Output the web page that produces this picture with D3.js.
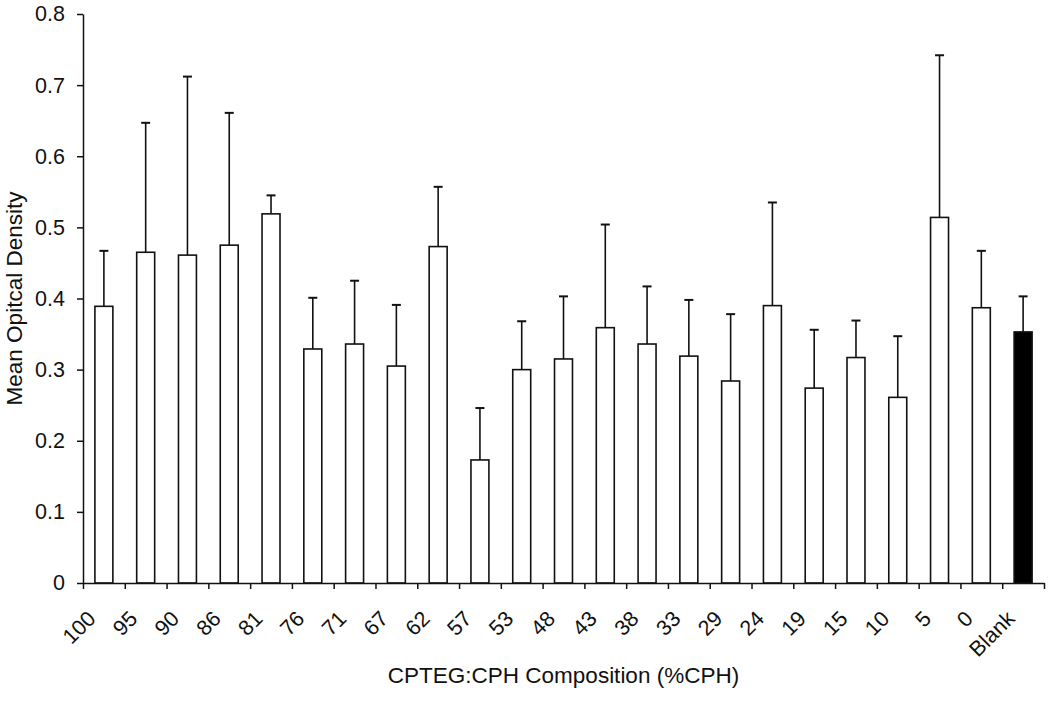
<!DOCTYPE html>
<html>
<head>
<meta charset="utf-8">
<script src="https://cdn.jsdelivr.net/npm/d3@7"></script>
<style>
  body { margin: 0; background: #fff; }
  text { font-family: "Liberation Sans", Arial, sans-serif; fill: #111; }
  .axis path, .axis line { stroke: #111; stroke-width: 1.5; }
</style>
</head>
<body>
<div id="chart"></div>
<script>
// values
var categories = ["100", "95", "90", "86", "81", "76", "71", "67", "62", "57", "53", "48",
  "43", "38", "33", "29", "24", "19", "15", "10", "5", "0", "Blank"];
var means = [0.389, 0.465, 0.461, 0.475, 0.519, 0.329, 0.336, 0.305, 0.473, 0.173, 0.300, 0.315,
  0.359, 0.336, 0.319, 0.284, 0.390, 0.274, 0.317, 0.261, 0.514, 0.387, 0.353];
var errors = [0.078, 0.182, 0.251, 0.186, 0.026, 0.072, 0.089, 0.086, 0.084, 0.073, 0.068, 0.088,
  0.145, 0.081, 0.079, 0.094, 0.145, 0.082, 0.052, 0.086, 0.228, 0.080, 0.050];
var yTicks = [0, 0.1, 0.2, 0.3, 0.4, 0.5, 0.6, 0.7, 0.8];

var svgWidth = 1050;
var svgHeight = 701;
var margin = { top: 14, right: 6, bottom: 118, left: 83 };
var width = svgWidth - margin.left - margin.right;
var height = svgHeight - margin.top - margin.bottom;
var tickFont = "21.5px";
var titleFont = "22.5px";

var chartData = categories.map(function(c, i) {
  return { cat: c, mean: means[i], err: errors[i] };
});

var svg = d3.select("#chart")
  .append("svg")
  .attr("width", svgWidth)
  .attr("height", svgHeight);

var chartGroup = svg.append("g")
  .attr("transform", `translate(${margin.left}, ${margin.top})`);

var xBand = d3.scaleBand()
  .domain(categories)
  .range([0, width])
  .paddingInner(0.57)
  .paddingOuter(0.285);

// scale for tick marks between categories
var xEdge = d3.scaleLinear()
  .domain([0, categories.length])
  .range([0, width]);

var yLinearScale = d3.scaleLinear()
  .domain([0, 0.8])
  .range([height, 0]);

// bars
chartGroup.selectAll("rect.bar")
  .data(chartData)
  .enter()
  .append("rect")
  .attr("class", "bar")
  .attr("x", d => xBand(d.cat))
  .attr("y", d => yLinearScale(d.mean))
  .attr("width", xBand.bandwidth())
  .attr("height", d => height - yLinearScale(d.mean))
  .attr("fill", d => d.cat === "Blank" ? "#000" : "#fff")
  .attr("stroke", "#111")
  .attr("stroke-width", 1.6);

// error bars (upper only)
var errGroup = chartGroup.append("g");
errGroup.selectAll("line.stem")
  .data(chartData)
  .enter()
  .append("line")
  .attr("x1", d => xBand(d.cat) + xBand.bandwidth() / 2)
  .attr("x2", d => xBand(d.cat) + xBand.bandwidth() / 2)
  .attr("y1", d => yLinearScale(d.mean))
  .attr("y2", d => yLinearScale(d.mean + d.err))
  .attr("stroke", "#111")
  .attr("stroke-width", 1.6);

errGroup.selectAll("line.cap")
  .data(chartData)
  .enter()
  .append("line")
  .attr("x1", d => xBand(d.cat) + xBand.bandwidth() / 2 - 4.5)
  .attr("x2", d => xBand(d.cat) + xBand.bandwidth() / 2 + 4.5)
  .attr("y1", d => yLinearScale(d.mean + d.err))
  .attr("y2", d => yLinearScale(d.mean + d.err))
  .attr("stroke", "#111")
  .attr("stroke-width", 2);

// axes
var leftAxis = d3.axisLeft(yLinearScale)
  .tickValues(yTicks)
  .tickFormat(d => d === 0 ? "0" : d.toFixed(1))
  .tickSizeInner(6)
  .tickSizeOuter(0)
  .tickPadding(12);

var yAxisG = chartGroup.append("g")
  .attr("class", "axis")
  .call(leftAxis);
yAxisG.selectAll("text")
  .style("font-size", tickFont)
  .style("font-family", "'Liberation Sans', Arial, sans-serif")
  .attr("fill", "#111");

var bottomAxis = d3.axisBottom(xEdge)
  .tickValues(d3.range(categories.length + 1))
  .tickFormat("")
  .tickSizeInner(6)
  .tickSizeOuter(0);

chartGroup.append("g")
  .attr("class", "axis")
  .attr("transform", `translate(0, ${height})`)
  .call(bottomAxis);

// rotated category labels
chartGroup.append("g")
  .selectAll("text")
  .data(categories)
  .join("text")
  .attr("text-anchor", "end")
  .style("font-size", tickFont)
  .attr("transform", d => `translate(${xBand(d) + xBand.bandwidth() / 2 - 7}, ${height + 37}) rotate(-45)`)
  .text(d => d);

// axis titles
chartGroup.append("text")
  .attr("transform", "rotate(-90)")
  .attr("x", 0 - (height / 2))
  .attr("y", 0 - margin.left + 22)
  .attr("text-anchor", "middle")
  .style("font-size", titleFont)
  .text("Mean Opitcal Density");

chartGroup.append("text")
  .attr("x", width / 2)
  .attr("y", height + 100)
  .attr("text-anchor", "middle")
  .style("font-size", titleFont)
  .text("CPTEG:CPH Composition (%CPH)");
</script>
</body>
</html>
